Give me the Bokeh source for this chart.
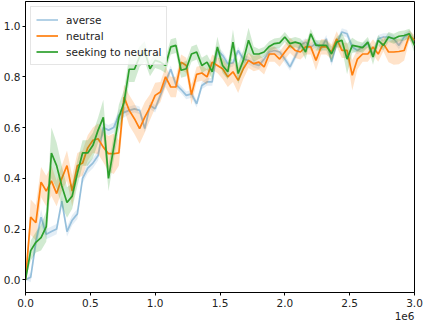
import numpy as np
from bokeh.plotting import figure
from bokeh.models import (Range1d, FixedTicker, PrintfTickFormatter, CustomJSTickFormatter,
                          Legend, LegendItem, Title, ColumnDataSource)
from bokeh.embed import file_html
from bokeh.resources import INLINE

# environment steps (evaluation grid, 0 .. 3e6)
steps = np.linspace(0, 3.0e6, 76)

averse = [
    0.00, 0.01, 0.15, 0.247, 0.18, 0.19, 0.20, 0.31, 0.19, 0.235,
    0.26, 0.40, 0.44, 0.46, 0.49, 0.60, 0.59, 0.60, 0.65, 0.66,
    0.668, 0.674, 0.668, 0.596, 0.687, 0.674, 0.727, 0.78, 0.83, 0.77,
    0.75, 0.727, 0.733, 0.694, 0.766, 0.78, 0.78, 0.904, 0.885, 0.852,
    0.855, 0.904, 0.87, 0.865, 0.852, 0.845, 0.87, 0.898, 0.904, 0.898,
    0.87, 0.839, 0.88, 0.924, 0.937, 0.918, 0.931, 0.912, 0.95, 0.858,
    0.931, 0.977, 0.97, 0.918, 0.904, 0.918, 0.931, 0.885, 0.95, 0.957,
    0.957, 0.95, 0.924, 0.957, 0.97, 0.937]
averse_sd = [
    0.00, 0.02, 0.03, 0.03, 0.02, 0.02, 0.02, 0.02, 0.02, 0.02,
    0.02, 0.02, 0.02, 0.02, 0.02, 0.02, 0.02, 0.02, 0.02, 0.02,
    0.015, 0.015, 0.015, 0.015, 0.015, 0.015, 0.015, 0.015, 0.015, 0.015,
    0.015, 0.015, 0.015, 0.015, 0.015, 0.015, 0.015, 0.015, 0.015, 0.015,
    0.015, 0.015, 0.015, 0.015, 0.015, 0.015, 0.015, 0.015, 0.015, 0.015,
    0.015, 0.015, 0.015, 0.015, 0.015, 0.015, 0.015, 0.015, 0.015, 0.015,
    0.015, 0.015, 0.015, 0.015, 0.015, 0.015, 0.015, 0.015, 0.015, 0.015,
    0.015, 0.015, 0.015, 0.015, 0.015, 0.015]

neutral = [
    0.00, 0.247, 0.225, 0.385, 0.35, 0.39, 0.34, 0.40, 0.45, 0.35,
    0.45, 0.46, 0.52, 0.55, 0.556, 0.523, 0.497, 0.497, 0.50, 0.72,
    0.668, 0.635, 0.596, 0.641, 0.68, 0.727, 0.74, 0.80, 0.76, 0.76,
    0.858, 0.845, 0.73, 0.81, 0.815, 0.80, 0.858, 0.845, 0.832, 0.80,
    0.82, 0.786, 0.832, 0.865, 0.852, 0.858, 0.839, 0.89, 0.89, 0.87,
    0.898, 0.924, 0.904, 0.898, 0.918, 0.918, 0.865, 0.918, 0.918, 0.898,
    0.95, 0.904, 0.904, 0.806, 0.87, 0.89, 0.89, 0.918, 0.89, 0.931,
    0.898, 0.898, 0.90, 0.904, 0.963, 0.944]
neutral_sd = [
    0.00, 0.07, 0.07, 0.06, 0.06, 0.06, 0.05, 0.05, 0.06, 0.06,
    0.05, 0.05, 0.05, 0.05, 0.06, 0.06, 0.07, 0.08, 0.05, 0.05,
    0.06, 0.06, 0.06, 0.06, 0.05, 0.05, 0.04, 0.04, 0.04, 0.04,
    0.03, 0.03, 0.04, 0.03, 0.03, 0.03, 0.03, 0.03, 0.04, 0.04,
    0.04, 0.05, 0.04, 0.03, 0.03, 0.03, 0.03, 0.03, 0.03, 0.03,
    0.03, 0.03, 0.03, 0.03, 0.03, 0.03, 0.04, 0.03, 0.03, 0.03,
    0.03, 0.03, 0.03, 0.06, 0.04, 0.03, 0.03, 0.03, 0.03, 0.03,
    0.04, 0.05, 0.05, 0.04, 0.02, 0.02]

seeking = [
    0.00, 0.115, 0.148, 0.166, 0.21, 0.50, 0.45, 0.37, 0.305, 0.33,
    0.42, 0.50, 0.50, 0.53, 0.59, 0.64, 0.40, 0.52, 0.64, 0.70,
    0.83, 0.83, 0.88, 0.90, 0.832, 0.865, 0.858, 0.845, 0.918, 0.924,
    0.826, 0.832, 0.89, 0.898, 0.845, 0.858, 0.82, 0.918, 0.845, 0.82,
    0.937, 0.813, 0.865, 0.944, 0.89, 0.89, 0.898, 0.92, 0.931, 0.934,
    0.957, 0.931, 0.937, 0.931, 0.898, 0.97, 0.924, 0.924, 0.924, 0.89,
    0.937, 0.944, 0.87, 0.924, 0.92, 0.915, 0.937, 0.878, 0.944, 0.924,
    0.957, 0.95, 0.96, 0.963, 0.97, 0.924]
seeking_sd = [
    0.00, 0.04, 0.04, 0.05, 0.06, 0.10, 0.09, 0.08, 0.06, 0.05,
    0.05, 0.05, 0.05, 0.05, 0.05, 0.07, 0.05, 0.05, 0.05, 0.05,
    0.05, 0.05, 0.04, 0.04, 0.03, 0.03, 0.03, 0.03, 0.03, 0.03,
    0.03, 0.03, 0.03, 0.03, 0.03, 0.03, 0.03, 0.04, 0.03, 0.03,
    0.05, 0.04, 0.04, 0.05, 0.03, 0.02, 0.02, 0.02, 0.02, 0.02,
    0.02, 0.02, 0.02, 0.02, 0.03, 0.02, 0.02, 0.02, 0.02, 0.03,
    0.02, 0.03, 0.06, 0.03, 0.02, 0.02, 0.02, 0.03, 0.02, 0.02,
    0.02, 0.02, 0.02, 0.02, 0.02, 0.03]

series_names = ["averse", "neutral", "seeking to neutral"]
series_colors = ["#1f77b4", "#ff7f0e", "#2ca02c"]
series_line_alpha = [0.4, 1.0, 1.0]
series_band_alpha = [0.12, 0.22, 0.22]

x_ticks = [0, 0.5e6, 1.0e6, 1.5e6, 2.0e6, 2.5e6, 3.0e6]
y_ticks = [0.0, 0.2, 0.4, 0.6, 0.8, 1.0]

FONT = "DejaVu Sans"
TXT = "#222222"

p = figure(width=423, height=325, output_backend="svg", toolbar_location=None,
           x_range=Range1d(0, 3.0e6), y_range=Range1d(-0.05, 1.097),
           min_border_left=24, min_border_right=9, min_border_top=1,
           min_border_bottom=33)
p.background_fill_color = "white"
p.border_fill_color = "white"
p.outline_line_color = "black"
p.outline_line_width = 1
p.xgrid.visible = False
p.ygrid.visible = False

items = []
data = [(averse, averse_sd), (neutral, neutral_sd), (seeking, seeking_sd)]
for (vals, sd), name, col, la, ba in zip(data, series_names, series_colors,
                                         series_line_alpha, series_band_alpha):
    v = np.array(vals)
    s = np.array(sd)
    src = ColumnDataSource(dict(x=steps, y=v, lo=v - s, hi=v + s))
    p.varea(x="x", y1="lo", y2="hi", source=src, fill_color=col, fill_alpha=ba)
    r = p.line(x="x", y="y", source=src, line_color=col, line_alpha=la, line_width=1.7)
    items.append(LegendItem(label=name, renderers=[r]))

for ax in (p.xaxis[0], p.yaxis[0]):
    ax.axis_line_color = "black"
    ax.major_tick_line_color = "black"
    ax.major_tick_out = 3
    ax.major_tick_in = 0
    ax.minor_tick_line_color = None
    ax.major_label_text_font = FONT
    ax.major_label_text_font_size = "10.5px"
    ax.major_label_text_color = TXT

p.xaxis.ticker = FixedTicker(ticks=x_ticks)
p.xaxis.formatter = CustomJSTickFormatter(code="return (tick/1e6).toFixed(1);")
p.xaxis.major_label_standoff = 3
p.yaxis.ticker = FixedTicker(ticks=y_ticks)
p.yaxis.formatter = PrintfTickFormatter(format="%.1f")
p.yaxis.major_label_standoff = 2

legend = Legend(items=items, location="top_left")
legend.label_text_font = FONT
legend.label_text_font_size = "10.5px"
legend.label_text_color = TXT
legend.padding = 5
legend.spacing = 1
legend.margin = 5
legend.label_height = 15
legend.glyph_height = 15
legend.glyph_width = 22
legend.label_standoff = 8
legend.border_line_color = "#cccccc"
legend.border_line_width = 1
legend.background_fill_alpha = 0.8
p.add_layout(legend)

p.add_layout(Title(text="1e6", align="right", text_font=FONT, text_font_size="10.5px",
                   text_font_style="normal", text_color=TXT, standoff=0), "below")

open("out.html", "w").write(file_html(p, INLINE))
